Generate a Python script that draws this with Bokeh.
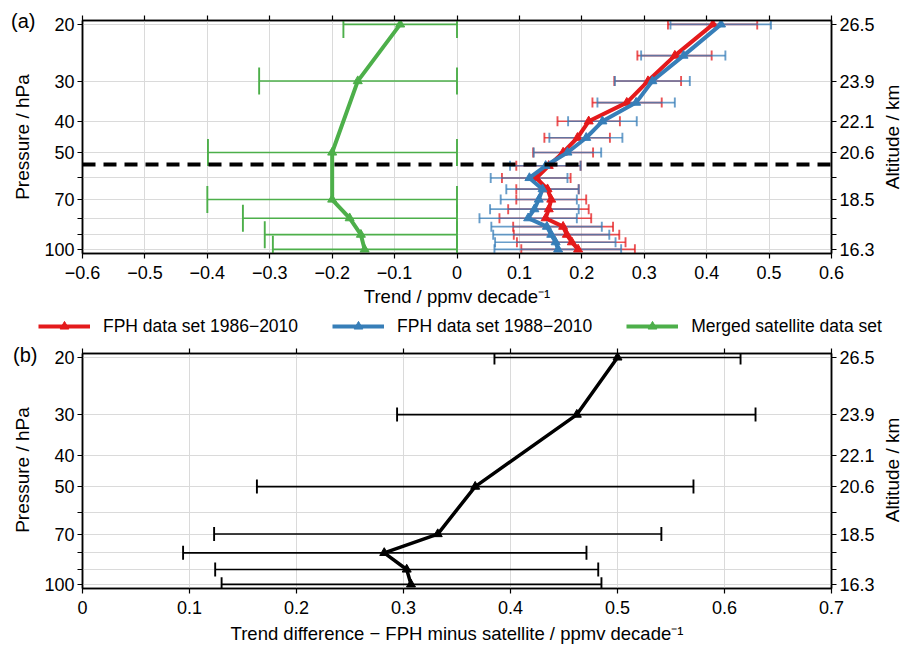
import math
from bokeh.plotting import figure
from bokeh.models import (ColumnDataSource, FixedTicker, LinearAxis, LogAxis, Legend,
                          LegendItem, Range1d, Span, Div)
from bokeh.layouts import column, row
from bokeh.embed import file_html
from bokeh.resources import INLINE

FONT = "Liberation Sans"
TICK_FS = "18px"
TITLE_FS = "18.5px"
YTITLE_FS = "19px"
PANEL_FS = "20px"
LEGEND_FS = "17.5px"

# ---------------- data ----------------
pressure_fph = [20, 25, 30, 35, 40, 45, 50, 55, 60, 65, 70, 75, 80, 85, 90, 95, 100]
fph86_trend = [0.410, 0.349, 0.306, 0.272, 0.211, 0.193, 0.170, 0.147, 0.127, 0.145,
               0.151, 0.147, 0.142, 0.170, 0.176, 0.184, 0.194]
fph86_low = [0.338, 0.289, 0.252, 0.217, 0.161, 0.140, 0.122, 0.095, 0.072, 0.095,
             0.095, 0.082, 0.068, 0.090, 0.091, 0.096, 0.103]
fph86_high = [0.481, 0.408, 0.359, 0.328, 0.261, 0.245, 0.218, 0.198, 0.182, 0.195,
              0.207, 0.211, 0.215, 0.250, 0.260, 0.270, 0.285]

fph88_trend = [0.423, 0.363, 0.313, 0.287, 0.233, 0.207, 0.177, 0.142, 0.116, 0.137,
               0.131, 0.124, 0.114, 0.144, 0.151, 0.158, 0.162]
fph88_low = [0.342, 0.295, 0.253, 0.225, 0.178, 0.148, 0.123, 0.085, 0.054, 0.079,
             0.070, 0.053, 0.036, 0.055, 0.058, 0.061, 0.060]
fph88_high = [0.503, 0.430, 0.373, 0.349, 0.288, 0.265, 0.231, 0.198, 0.177, 0.195,
              0.192, 0.195, 0.192, 0.232, 0.244, 0.254, 0.263]

pressure_sat = [20, 30, 50, 70, 80, 90, 100]
sat_trend = [-0.091, -0.159, -0.200, -0.200, -0.172, -0.154, -0.148]
sat_low = [-0.182, -0.317, -0.399, -0.400, -0.343, -0.308, -0.295]
sat_high = [0.0, 0.0, 0.0, 0.0, 0.0, 0.0, 0.0]

diff_trend = [0.500, 0.462, 0.367, 0.332, 0.282, 0.303, 0.307]
diff_low = [0.385, 0.294, 0.163, 0.123, 0.094, 0.124, 0.130]
diff_high = [0.615, 0.629, 0.571, 0.541, 0.471, 0.482, 0.485]

dashed_level_hpa = 54.5

pressure_ticks = [20, 30, 40, 50, 60, 70, 80, 90, 100]
pressure_labels = ["20", "30", "40", "50", "", "70", "", "", "100"]
altitude_labels = ["26.5", "23.9", "22.1", "20.6", "", "18.5", "", "", "16.3"]

top_x_ticks = [-0.6, -0.5, -0.4, -0.3, -0.2, -0.1, 0.0, 0.1, 0.2, 0.3, 0.4, 0.5, 0.6]
top_x_labels = ["\u22120.6", "\u22120.5", "\u22120.4", "\u22120.3", "\u22120.2", "\u22120.1",
                "0", "0.1", "0.2", "0.3", "0.4", "0.5", "0.6"]
bot_x_ticks = [0.0, 0.1, 0.2, 0.3, 0.4, 0.5, 0.6, 0.7]
bot_x_labels = ["0", "0.1", "0.2", "0.3", "0.4", "0.5", "0.6", "0.7"]

series_names = ["FPH data set 1986\u22122010", "FPH data set 1988\u22122010",
                "Merged satellite data set"]

RED = "#e41a1c"
BLUE = "#377eb8"
GREEN = "#4daf4a"
GRID = "#dadada"

TOTAL_W = 903
LEFT_W = 40      # strip holding "(a)"/"(b)" and the pressure title
RIGHT_W = 26     # strip holding the altitude title
MAIN_W = TOTAL_W - LEFT_W - RIGHT_W
H_A = 310
H_LEG = 30
H_B = 307


def style_axis(ax, ticks, labels, show_labels=True):
    ax.ticker = FixedTicker(ticks=ticks)
    ax.major_tick_out = 5
    ax.major_tick_in = 0
    ax.minor_tick_line_color = None
    ax.axis_line_color = "black"
    ax.axis_line_width = 1.5
    ax.major_tick_line_width = 1.2
    ax.major_label_text_font = FONT
    if show_labels:
        ax.major_label_overrides = {t: l for t, l in zip(ticks, labels)}
        ax.major_label_text_font_size = TICK_FS
        ax.major_label_text_color = "black"
        ax.major_label_standoff = 3
    else:
        ax.major_label_overrides = {t: "" for t in ticks}
        ax.major_label_text_font_size = "0px"
        ax.major_label_text_color = None
        ax.major_label_text_alpha = 0
        ax.major_label_standoff = 0
    ax.axis_label_text_font = FONT
    ax.axis_label_text_font_size = TITLE_FS
    ax.axis_label_text_font_style = "normal"
    ax.axis_label_text_color = "black"


def make_fig(height, xr, border_top, border_bottom):
    p = figure(width=MAIN_W, height=height, x_range=xr, y_range=Range1d(103, 19.45),
               y_axis_type="log", output_backend="svg", toolbar_location=None,
               min_border_left=82 - LEFT_W, min_border_right=TOTAL_W - RIGHT_W - 832,
               min_border_top=border_top, min_border_bottom=border_bottom)
    p.outline_line_color = "black"
    p.outline_line_width = 1.5
    p.background_fill_color = "white"
    p.border_fill_color = "white"
    p.xgrid.grid_line_color = GRID
    p.ygrid.grid_line_color = GRID
    return p


def add_axes(p, xticks, xlabels, xtitle, title_standoff):
    style_axis(p.xaxis[0], xticks, xlabels)
    p.xaxis[0].axis_label = xtitle
    p.xaxis[0].major_label_standoff = 7
    p.xaxis[0].axis_label_standoff = title_standoff
    style_axis(p.yaxis[0], pressure_ticks, pressure_labels)
    p.xgrid.ticker = FixedTicker(ticks=xticks)
    p.ygrid.ticker = FixedTicker(ticks=pressure_ticks)
    right = LogAxis()
    style_axis(right, pressure_ticks, altitude_labels)
    p.add_layout(right, "right")
    top = LinearAxis()
    style_axis(top, xticks, xlabels, show_labels=False)
    p.add_layout(top, "above")


def text_strip(width, height, items):
    """items: (text, left/center x, center y, rotated?) in px within the strip"""
    spans = []
    for txt, x, y, rot in items:
        if rot:
            spans.append(
                f'<span style="position:absolute;left:{x}px;top:{y}px;white-space:nowrap;'
                f'font-family:\'{FONT}\';font-size:{YTITLE_FS};color:black;line-height:1;'
                f'transform:translate(-50%,-50%) rotate(-90deg);">{txt}</span>')
        else:
            spans.append(
                f'<span style="position:absolute;left:{x}px;top:{y}px;white-space:nowrap;'
                f'font-family:\'{FONT}\';font-size:{PANEL_FS};color:black;line-height:1;'
                f'transform:translate(0,-50%);">{txt}</span>')
    html = (f'<div style="position:relative;width:{width}px;height:{height}px;'
            f'overflow:visible;">' + "".join(spans) + '</div>')
    return Div(text=html, width=width, height=height, margin=0)


def errorbars(p, pres, lo, hi, color, alpha, width, cap):
    src = ColumnDataSource(dict(p=pres, lo=lo, hi=hi))
    p.segment(x0="lo", y0="p", x1="hi", y1="p", source=src, line_color=color,
              line_alpha=alpha, line_width=width)
    for col in ("lo", "hi"):
        p.scatter(x=col, y="p", source=src, marker="dash", angle=math.pi / 2, size=cap,
                  line_color=color, line_alpha=alpha, line_width=width + 0.3)


def profile(p, pres, vals, color, lw):
    src = ColumnDataSource(dict(p=pres, v=vals))
    ln = p.line(x="v", y="p", source=src, line_color=color, line_width=lw,
                line_join="round")
    mk = p.scatter(x="v", y="p", source=src, marker="triangle", size=9,
                   fill_color=color, line_color=color)
    return ln, mk


# ---------------- panel (a) ----------------
pa = make_fig(H_A, Range1d(-0.6, 0.6), 20, 57)
add_axes(pa, top_x_ticks, top_x_labels, "Trend / ppmv decade\u207b\u00b9", 4)

errorbars(pa, pressure_sat, sat_low, sat_high, GREEN, 1.0, 1.6, 27)
profile(pa, pressure_sat, sat_trend, GREEN, 4)
errorbars(pa, pressure_fph, fph86_low, fph86_high, RED, 0.75, 1.6, 10)
errorbars(pa, pressure_fph, fph88_low, fph88_high, BLUE, 0.75, 1.6, 10)
profile(pa, pressure_fph, fph86_trend, RED, 4)
profile(pa, pressure_fph, fph88_trend, BLUE, 4)

pa.add_layout(Span(location=dashed_level_hpa, dimension="width", line_color="black",
                   line_width=4, line_dash="13 8"))

left_a = text_strip(LEFT_W, H_A, [("(a)", 11, 21, False),
                                  ("Pressure / hPa", 22, 137, True)])
right_a = text_strip(RIGHT_W, H_A, [("Altitude / km", 15, 137, True)])

# ---------------- legend strip ----------------
# the same series drawn on a strip whose y range keeps them out of view
leg = figure(width=TOTAL_W, height=H_LEG, output_backend="svg", toolbar_location=None,
             min_border=0, x_axis_type=None, y_axis_type=None,
             x_range=Range1d(-0.6, 0.6), y_range=Range1d(1000, 2000))
leg.outline_line_color = None
leg.xgrid.visible = False
leg.ygrid.visible = False
lr = profile(leg, pressure_fph, fph86_trend, RED, 4)
lb = profile(leg, pressure_fph, fph88_trend, BLUE, 4)
lg = profile(leg, pressure_sat, sat_trend, GREEN, 4)
legend = Legend(items=[LegendItem(label=series_names[0], renderers=list(lr)),
                       LegendItem(label=series_names[1], renderers=list(lb)),
                       LegendItem(label=series_names[2], renderers=list(lg))],
                orientation="horizontal", location=(38, 3),
                glyph_width=52, glyph_height=22, label_height=22, label_standoff=13,
                spacing=34, padding=0, margin=0, border_line_color=None,
                background_fill_alpha=0.0, label_text_font=FONT,
                label_text_font_size=LEGEND_FS, label_text_color="black")
leg.add_layout(legend)

# ---------------- panel (b) ----------------
pb = make_fig(H_B, Range1d(0, 0.7), 13, 59)
add_axes(pb, bot_x_ticks, bot_x_labels,
         "Trend difference \u2212 FPH minus satellite / ppmv decade\u207b\u00b9", 6)

errorbars(pb, pressure_sat, diff_low, diff_high, "black", 1.0, 1.6, 14)
profile(pb, pressure_sat, diff_trend, "black", 3.5)

left_b = text_strip(LEFT_W, H_B, [("(b)", 13, 15, False),
                                  ("Pressure / hPa", 22, 130, True)])
right_b = text_strip(RIGHT_W, H_B, [("Altitude / km", 15, 130, True)])

layout = column(row(left_a, pa, right_a), leg, row(left_b, pb, right_b))
open("out.html", "w").write(file_html(layout, INLINE))
